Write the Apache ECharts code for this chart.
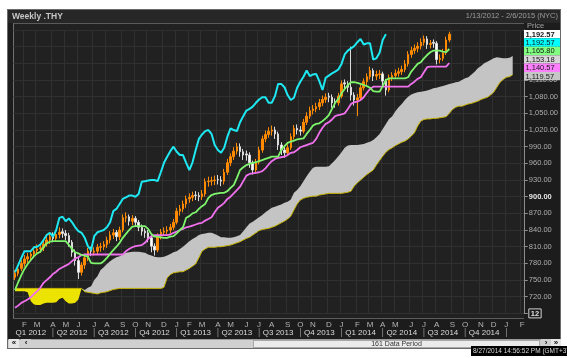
<!DOCTYPE html>
<html><head><meta charset="utf-8">
<script src="https://cdn.jsdelivr.net/npm/echarts@6.0.0/dist/echarts.min.js"></script>
<style>
html,body{margin:0;padding:0}
body{width:567px;height:358px;background:#fff;position:relative;overflow:hidden;font-family:'Liberation Sans',Arial,sans-serif}
#panel{position:absolute;left:7px;top:9px;width:554px;height:340px;background:#1c1c1c;border:1px solid #6a6a6a;box-sizing:border-box}
#head{position:absolute;left:8px;top:10px;width:552px;height:13px;background:#272727}
#plot{position:absolute;left:13px;top:23px;width:511px;height:296px;background:#212121;border-top:1px solid #5a5a5a;border-left:1px solid #707070;box-sizing:border-box}
#chart{position:absolute;left:0;top:0;width:567px;height:358px}
.sb{position:absolute;box-sizing:border-box;font-family:'Liberation Sans',Arial,sans-serif}
#sb{left:8px;top:339px;width:552px;height:9px;background:#d0d0d0;border-top:1px solid #9a9a9a}
.btn{top:339px;width:10px;height:9px;background:#e6e6e6;color:#111;font-size:8px;line-height:8px;text-align:center;font-weight:bold}
#thumb{left:253px;top:340px;width:287px;height:8px;background:#ebebeb;border:1px solid #a8a8a8;color:#333;font-size:7px;line-height:6px;text-align:center}
#tip{left:471px;top:346px;width:96px;height:10px;background:#000;color:#d8d8d8;font-size:6.5px;line-height:9px;white-space:nowrap;overflow:hidden;padding-left:2px}
</style></head>
<body>
<div id="panel"></div><div id="head"></div><div id="plot"></div>
<div id="chart"></div>
<div class="sb" id="sb"></div>
<div class="sb btn" style="left:9px">&laquo;</div>
<div class="sb btn" style="left:21px;background:#d0d0d0">&lsaquo;</div>
<div class="sb" id="thumb">161 Data Period</div>
<div class="sb btn" style="left:541px;background:#d0d0d0">&rsaquo;</div>
<div class="sb btn" style="left:551px">&raquo;</div>
<div class="sb" id="tip">8/27/2014 14:56:52 PM (GMT+3)</div>
<script>
// ---------- data ----------
const startDate = '2012-01-13';
const weekCount = 161;
const monthLetters = ['J','F','M','A','M','J','J','A','S','O','N','D'];

const opens = [755,762,771,780,788,793,797,803,806,808,
815,822,829,825,832,837,834,830,818,800,
785,764,777,790,803,800,802,809,810,814,
822,831,836,828,840,862,864,856,861,854,
845,838,835,826,811,804,829,836,838,840,
845,854,874,878,887,896,899,903,902,900,
905,927,928,929,931,930,928,944,961,972,
982,990,981,977,975,961,948,962,984,1004,
1012,1018,1020,1013,993,984,979,988,1008,1023,
1020,1018,1034,1045,1055,1058,1062,1069,1075,1081,
1079,1071,1069,1081,1105,1103,1097,1083,1074,1078,
1096,1107,1116,1127,1117,1120,1121,1108,1092,1114,
1118,1122,1125,1129,1139,1156,1163,1167,1171,1178,
1184,1174,1178,1176,1147,1149,1159,1182];

const closes = [762,770,780,788,792,797,802,806,808,815,
822,828,825,832,836,834,830,818,800,785,
764,777,790,802,802,802,809,810,814,822,
831,835,828,840,862,864,856,861,854,845,
838,835,826,811,804,829,836,838,840,845,
854,874,878,887,896,899,902,902,900,905,
927,928,929,930,930,928,944,961,972,982,
990,981,975,975,961,948,962,984,1004,1012,
1018,1020,1013,993,984,979,988,1008,1023,1020,
1018,1034,1045,1055,1058,1062,1069,1075,1079,1079,
1069,1069,1081,1103,1103,1097,1083,1074,1078,1096,
1107,1116,1127,1117,1120,1121,1108,1092,1114,1118,
1122,1125,1129,1139,1156,1163,1167,1171,1178,1184,
1174,1176,1176,1147,1149,1159,1182,1192.57];

const lows = [750,757,766,774,781,786,790,796,799,802,
810,815,818,820,825,826,822,810,792,776,
752,758,770,784,793,794,796,801,804,808,
816,824,820,822,836,854,848,849,846,838,
830,826,818,800,794,800,823,830,832,834,
840,850,866,872,880,889,892,894,892,894,
900,918,920,921,922,919,922,939,955,966,
976,972,966,965,952,940,943,958,979,998,
1006,1010,1004,984,975,970,973,984,1003,1012,
1010,1014,1029,1040,1048,1052,1056,1063,1069,1070,
1060,1060,1064,1077,1094,1088,1073,1064,1045,1073,
1091,1101,1111,1108,1110,1112,1099,1082,1088,1108,
1112,1116,1119,1124,1134,1150,1157,1160,1165,1172,
1166,1167,1168,1138,1140,1144,1155,1178];

const highs = [768,776,786,795,799,803,810,814,816,822,
830,836,836,840,845,843,840,835,822,805,
790,782,796,808,810,809,815,817,820,828,
838,842,840,846,868,872,868,867,865,858,
850,843,840,830,816,834,842,845,847,851,
860,880,885,893,902,906,909,910,908,912,
933,936,936,938,939,937,950,968,978,989,
997,996,986,983,980,965,968,990,1010,1019,
1025,1028,1026,1017,998,990,994,1014,1029,1030,
1027,1040,1052,1062,1065,1069,1076,1082,1086,1087,
1084,1077,1087,1109,1111,1108,1170,1088,1085,1102,
1113,1122,1134,1131,1127,1128,1125,1112,1120,1124,
1129,1132,1136,1146,1162,1170,1174,1178,1185,1190,
1189,1182,1183,1180,1156,1166,1188,1197];

const lagging = [764,777,790,802,802,802,809,810,814,822,
831,835,828,840,862,864,856,861,854,845,
838,835,826,811,804,829,836,838,840,845,
854,874,878,887,896,899,902,902,900,905,
927,928,929,930,930,928,944,961,972,982,
990,981,975,975,961,948,962,984,1004,1012,
1018,1020,1013,993,984,979,988,1008,1023,1020,
1018,1034,1045,1055,1058,1062,1069,1075,1079,1079,
1069,1069,1081,1103,1103,1097,1083,1074,1078,1096,
1107,1116,1127,1117,1120,1121,1108,1092,1114,1118,
1122,1125,1129,1139,1156,1163,1167,1171,1178,1184,
1174,1176,1176,1147,1149,1159,1182,1192.57];

const tenkan = [732,746,759,770,779,786,793,798,801,809,
816,819,820,820,820,820,820,813,806,800,
798,795,794,792,781,780,780,780,784,790,
797,804,810,817,826,833,840,846,847,847,
847,847,842,833,828,828,827,826,826,828,
829,834,840,845,862,865,870,872,878,883,
887,898,903,905,906,907,907,910,916,921,
934,948,953,957,959,961,962,964,966,968,
970,972,972,972,984,991,997,999,1001,1003,
1004,1005,1013,1020,1028,1031,1032,1036,1041,1047,
1058,1069,1076,1086,1094,1101,1106,1106,1105,1103,
1101,1099,1096,1090,1089,1089,1099,1110,1113,1113,
1113,1113,1113,1113,1115,1125,1132,1139,1142,1149,
1155,1160,1163,1163,1163,1161,1160,1165.80];

const kijun = [700,704,709,712,715,719,725,730,736,745,
750,755,761,765,770,773,776,779,784,789,
791,795,796,796,796,796,796,796,796,796,
796,796,796,796,796,802,806,809,811,812,
813,817,824,829,831,831,831,831,831,832,
835,837,840,842,845,846,848,850,852,853,
857,860,863,872,880,884,889,896,900,906,
912,918,928,938,941,942,943,944,946,951,
958,964,968,970,971,972,975,979,980,984,
989,991,993,995,997,1004,1015,1024,1031,1034,
1039,1045,1047,1048,1050,1058,1067,1070,1071,1074,
1079,1087,1094,1098,1098,1098,1098,1098,1098,1098,
1098,1098,1098,1098,1098,1103,1107,1112,1115,1124,
1133,1134,1134,1134,1134,1134,1134,1140.57];

const spanA = [730,730,730,730,728,712,706,705,705,708,
709,709,709,710,716,718,712,708,708,709,
715,735,732,736,739,750,757,768,773,779,
784,788,791,793,796,799,800,801,801,801,
800,799,796,794,792,791,791,792,794,797,
800,802,806,810,815,820,824,827,831,833,
834,835,835,833,830,827,827,826,826,827,
829,831,838,845,852,855,859,863,867,872,
876,880,882,884,886,889,891,895,907,912,
919,928,937,945,952,954,954,954,954,955,
960,966,973,980,988,992,993,993,993,994,
995,997,999,1002,1007,1013,1022,1031,1040,1045,
1054,1061,1067,1074,1080,1084,1086,1088,1089,1090,
1091,1093,1095,1096,1098,1099,1101,1103,1104,1106,
1107,1110,1113,1115,1120,1125,1131,1135,1140,1143,
1146,1149,1151,1150,1149,1149,1150,1153.18];

const spanB = [735,735,735,735,735,735,735,735,735,735,
735,735,735,735,735,735,735,735,735,735,
735,735,729,728,727,726,725,727,728,729,
731,733,734,735,735,735,735,735,735,735,
735,735,735,735,735,735,735,737,754,760,
763,764,765,765,768,771,775,779,790,802,
806,809,809,809,810,810,811,812,813,815,
817,819,822,825,827,831,835,839,841,842,
843,845,847,850,853,856,860,865,876,887,
894,897,899,900,901,901,903,904,905,906,
906,906,906,906,907,908,910,919,925,930,
935,940,944,948,957,965,973,980,985,988,
992,995,998,1000,1004,1009,1015,1027,1036,1039,
1040,1040,1041,1041,1042,1043,1044,1050,1057,1061,
1063,1063,1065,1067,1068,1070,1072,1075,1077,1079,
1083,1088,1097,1106,1111,1115,1116,1119.57];

// ---------- derived structures ----------
const FONT = "'Liberation Sans', Arial, sans-serif";
const categories = [];
(function(){
  const p = startDate.split('-').map(Number);
  const t0 = Date.UTC(p[0], p[1]-1, p[2]);
  for (let i = 0; i < weekCount; i++) categories.push(new Date(t0 + i*7*86400000).toISOString().slice(0,10));
})();
const monthOf = i => parseInt(categories[i].slice(5,7),10) - 1;
const monthStart = new Set();
for (let i = 1; i < categories.length; i++) if (monthOf(i) !== monthOf(i-1)) monthStart.add(i);
const qStarts = [0];
monthStart.forEach(i => { if (monthOf(i) % 3 === 0) qStarts.push(i); });
const qSep = new Set(qStarts.slice(1));
const qLabel = new Map();
for (let k = 0; k < qStarts.length; k++) {
  const a = qStarts[k], b = k+1 < qStarts.length ? qStarts[k+1] : categories.length;
  if (b - a >= 12) {
    const idx = Math.floor((a + b - 1) / 2);
    qLabel.set(idx, 'Q' + (Math.floor(monthOf(a)/3)+1) + ' ' + categories[a].slice(0,4));
  }
}
const candleData = opens.map((o,i) => [o, closes[i], lows[i], highs[i]]);
const cloudBase = spanA.map((a,i) => Math.min(a, spanB[i]));
const cloudUp = spanA.map((a,i) => Math.max(a - spanB[i], 0));
const cloudDown = spanA.map((a,i) => Math.max(spanB[i] - a, 0));

function fmt(v){
  const s = Number(v).toFixed(2).split('.');
  return s[0].replace(/\B(?=(\d{3})+(?!\d))/g, ',') + '.' + s[1];
}

const chart = echarts.init(document.getElementById('chart'), null, {renderer:'canvas'});
const option = {
  backgroundColor: 'transparent',
  animation: false,
  title: [
    {text:'Weekly .THY', left: 12, top: 12, padding: 0,
     textStyle:{color:'#c6c6c6', fontSize: 8.5, fontWeight:'bold', fontFamily: FONT}},
    {text:'1/13/2012 - 2/6/2015 (NYC)', right: 9, top: 12, padding: 0,
     textStyle:{color:'#9c9c9c', fontSize: 7.5, fontWeight:'normal', fontFamily: FONT}}
  ],
  grid: {left: 13.4, right: 43.2, top: 30, bottom: 44.6},
  xAxis: [
    {type:'category', data: categories, boundaryGap: true, offset: 5,
     axisLine:{show:true, lineStyle:{color:'#5c5c5c'}}, axisTick:{show:false},
     axisLabel:{interval:(i) => monthStart.has(i),
       formatter:(v) => monthLetters[parseInt(v.slice(5,7),10)-1],
       color:'#b4b4b4', fontSize: 8, margin: 2, fontFamily: FONT},
     splitLine:{show:true, interval:(i) => monthStart.has(i), lineStyle:{color:'#303030', width:1}}},
    {type:'category', data: categories, boundaryGap: true, position:'bottom', offset: 15,
     axisLine:{show:false}, axisTick:{show:false}, splitLine:{show:false},
     axisLabel:{interval:(i) => qLabel.has(i) || qSep.has(i),
       formatter:(v, i) => qSep.has(i) ? '{s||}' : (qLabel.get(i) || ''),
       color:'#dadada', fontSize: 8, margin: 0, fontFamily: FONT,
       rich:{s:{color:'#8c8c8c', fontSize: 9, fontFamily: FONT}}}}
  ],
  yAxis: {type:'value', position:'right', min: 690, max: 1200, interval: 30,
    axisLine:{show:true, lineStyle:{color:'#8c8c8c'}},
    axisTick:{show:true, length: 4, lineStyle:{color:'#8c8c8c'}},
    splitLine:{show:true, lineStyle:{color:'#303030', width:1}},
    axisLabel:{margin: 5, color:'#aeaeae', fontSize: 7.5, fontFamily: FONT,
      formatter:(v) => v === 690 ? '{box|12}' : (v >= 1200 ? '' : (v === 900 ? '{b|900.00}' : fmt(v))),
      rich:{
        box:{color:'#e0e0e0', fontSize: 7.5, fontWeight:'bold', fontFamily: FONT, borderColor:'#cfcfcf', borderWidth:1, padding:[1,2,0,2]},
        b:{color:'#e6e6e6', fontSize: 7.5, fontWeight:'bold', fontFamily: FONT}
      }}
  },
  series: [
    {name:'cloudBase', type:'line', data: cloudBase, stack:'cloud', symbol:'none', silent:true,
     lineStyle:{opacity:0}},
    {name:'cloudUp', type:'line', data: cloudUp, stack:'cloud', symbol:'none', silent:true,
     lineStyle:{opacity:0}, areaStyle:{color:'#c4c4c4', opacity:1}},
    {name:'cloudDown', type:'line', data: cloudDown, stack:'cloud', symbol:'none', silent:true,
     lineStyle:{opacity:0}, areaStyle:{color:'#ece300', opacity:1}},
    {name:'Span B', type:'line', data: spanB, symbol:'none', silent:true,
     lineStyle:{color:'#c8b600', width:1}},
    {name:'Price', type:'candlestick', data: candleData, barWidth: 2,
     itemStyle:{color:'#ff8a00', color0:'#ffffff', borderColor:'#ff8a00', borderColor0:'#dcdcdc', borderWidth:1}},
    {name:'Kijun', type:'line', data: kijun, symbol:'none', silent:true,
     lineStyle:{color:'#f070ee', width:1.8}},
    {name:'Tenkan', type:'line', data: tenkan, symbol:'none', silent:true,
     lineStyle:{color:'#7ef56c', width:1.8}},
    {name:'Lagging', type:'line', data: lagging, symbol:'none', silent:true,
     lineStyle:{color:'#1ee8f2', width:2}}
  ]
};
chart.setOption(option);

// last-value tags stacked on the price axis
const tags = [
  {v: closes[closes.length-1], bg:'#ffffff', bold:true},
  {v: lagging[lagging.length-1], bg:'#00ffff'},
  {v: tenkan[tenkan.length-1], bg:'#80ff80'},
  {v: spanA[spanA.length-1], bg:'#d6d6d6'},
  {v: kijun[kijun.length-1], bg:'#ff80ff'},
  {v: spanB[spanB.length-1], bg:'#c6c6c6'}
];
const H = 8.4;
let prev = -1e9;
let firstTop = null;
const els = [];
tags.map((t,k) => ({t, k})).sort((a,b) => (b.t.v - a.t.v) || (a.k - b.k)).forEach(({t}) => {
  let y = chart.convertToPixel({yAxisIndex:0}, t.v);
  y = Math.max(y, prev + H);
  prev = y;
  if (firstTop === null) firstTop = y - H/2;
  els.push({type:'rect', shape:{x:524, y:y - H/2, width:36, height:H}, style:{fill:t.bg}, z:100});
  els.push({type:'text', x:525.5, y:y + 0.5, z:101,
    style:{text: fmt(t.v), fill:'#161616', font:(t.bold ? 'bold ' : '') + '7.5px ' + FONT, verticalAlign:'middle', textVerticalAlign:'middle'}});
});
els.push({type:'text', x:527, y:firstTop + 0.5, z:99,
  style:{text:'Price', fill:'#a4a4a4', font:'7.5px ' + FONT, verticalAlign:'bottom', textVerticalAlign:'bottom'}});
chart.setOption({graphic: els});
</script>
</body></html>
